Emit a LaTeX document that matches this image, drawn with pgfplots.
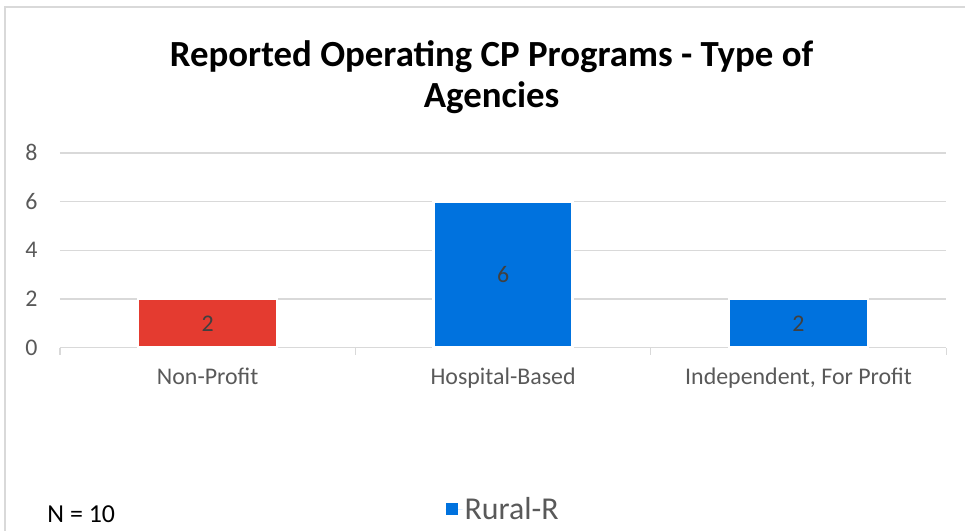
\documentclass[border=0pt]{standalone}
\usepackage{pgfplots}
\pgfplotsset{compat=1.18}
\usepackage{fontspec}
\setmainfont{Carlito}
\definecolor{barred}{HTML}{E43B30}
\definecolor{barblue}{HTML}{0072DE}
\definecolor{txtgray}{HTML}{595959}
\definecolor{lblgray}{HTML}{404040}
\definecolor{gridgray}{HTML}{D9D9D9}
\definecolor{framegray}{HTML}{D9D9D9}
\begin{document}
\begin{tikzpicture}
\begin{axis}[
  at={(0,0)}, anchor=south west,
  scale only axis,
  width=887bp, height=195bp,
  xmin=-0.5, xmax=2.5,
  ymin=0, ymax=8,
  ytick={0,2,4,6,8},
  xtick={-0.5,0.5,1.5,2.5},
  xticklabels={},
  major x tick style={draw=gridgray, line width=1.3bp},
  major tick length=7bp,
  tick align=outside,
  extra x ticks={0,1,2},
  extra x tick labels={Non-Profit,Hospital-Based,{Independent, For Profit}},
  extra x tick style={major tick length=0pt, grid=none, major x tick style={draw=none}},
  major y tick style={draw=none},
  ymajorgrids,
  grid style={draw=gridgray, line width=1.3bp},
  axis y line*=left,
  y axis line style={draw=none},
  axis x line*=bottom,
  x axis line style={draw=gridgray, line width=1.3bp, -},
  /pgf/number format/assume math mode=true,
  ticklabel style={font=\fontsize{24}{28}\selectfont, text=txtgray},
  yticklabel style={xshift=-12bp},
  xticklabel style={yshift=-17bp},
  ybar, bar width=0.47, bar shift=0pt,
  clip=false,
  legend style={at={(0.5,-0.83)}, anchor=center, draw=none, fill=none,
    font=\fontsize{32}{36}\selectfont, text=txtgray},
  legend image code/.code={\fill[barblue, draw=none] (0bp,-6bp) rectangle (12bp,6bp); \path[draw=none] (0bp,0bp) -- (17bp,0bp);},
  visualization depends on={y/2 \as \halfy},
  nodes near coords,
  every node near coord/.append style={anchor=center, text=lblgray,
    font=\fontsize{24}{28}\selectfont,
    shift={(axis direction cs:0,-\halfy)}},
]
\addplot[fill=barred, draw=white, line width=2.5bp, forget plot] coordinates {(0,2)};
\addplot[fill=barblue, draw=white, line width=2.5bp] coordinates {(1,6) (2,2)};
\legend{Rural-R}
\end{axis}
\draw[framegray, line width=1.5bp] (-55bp,-183bp) -- (-55bp,341bp) -- (906bp,341bp);
\node[anchor=base, font=\fontsize{37}{44}\bfseries\selectfont] at (432bp,281bp) {Reported Operating CP Programs - Type of};
\node[anchor=base, font=\fontsize{37}{44}\bfseries\selectfont] at (432bp,240bp) {Agencies};
\node[anchor=base west, font=\fontsize{26}{30}\selectfont] at (-16bp,-175bp) {N = 10};
\path[use as bounding box] (-60bp,-183bp) rectangle (906bp,348bp);
\end{tikzpicture}
\end{document}
